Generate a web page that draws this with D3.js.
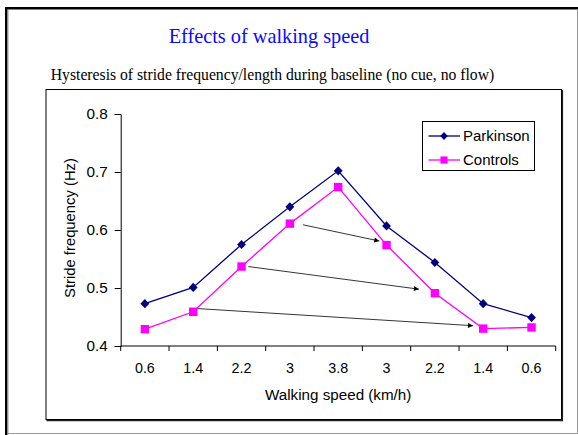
<!DOCTYPE html>
<html><head><meta charset="utf-8">
<script src="https://cdn.jsdelivr.net/npm/d3@7"></script>
<style>body{margin:0;background:#fff}svg{display:block}</style>
</head><body>
<script>
const categories = ["0.6","1.4","2.2","3","3.8","3","2.2","1.4","0.6"];
const parkinson = [0.473,0.501,0.575,0.640,0.702,0.607,0.544,0.473,0.449];
const controls  = [0.429,0.459,0.537,0.611,0.674,0.574,0.491,0.430,0.432];
const yTicks = [0.4,0.5,0.6,0.7,0.8];
// arrows: [fromIndex, fromValue, toIndex, toValue]
const arrows = [
  [3.27,0.609,4.85,0.581],
  [2.14,0.537,5.67,0.498],
  [1.00,0.465,6.79,0.435]
];
const title = "Effects of walking speed";
const subtitle = "Hysteresis of stride frequency/length during baseline (no cue, no flow)";

(function(){
const W=578,H=435;
const svg=d3.select("body").append("svg").attr("width",W).attr("height",H);

// outer frame
svg.append("rect").attr("x",5).attr("y",7).attr("width",573).attr("height",2.5).attr("fill","#000");
svg.append("rect").attr("x",5).attr("y",7).attr("width",2.5).attr("height",428).attr("fill","#000");
svg.append("rect").attr("x",7.5).attr("y",9.5).attr("width",1).attr("height",425).attr("fill","#999");
svg.append("line").attr("x1",577.5).attr("x2",577.5).attr("y1",9.5).attr("y2",433.5).attr("stroke","#999");
svg.append("line").attr("x1",7.5).attr("x2",578).attr("y1",433.5).attr("y2",433.5).attr("stroke","#999");

// titles
svg.append("text").attr("x",269).attr("y",43).attr("text-anchor","middle")
  .attr("font-family","'Liberation Serif','Times New Roman',serif").attr("font-size",20.3)
  .attr("fill","#0a0aff").text(title);
svg.append("text").attr("x",272.5).attr("y",80).attr("text-anchor","middle")
  .attr("font-family","'Liberation Serif','Times New Roman',serif").attr("font-size",15.7)
  .attr("fill","#000").text(subtitle);

// chart box
svg.append("rect").attr("x",46).attr("y",89.5).attr("width",515.5).attr("height",330)
  .attr("fill","#fff").attr("stroke","#000").attr("stroke-width",1);
svg.append("line").attr("x1",562.5).attr("x2",562.5).attr("y1",90).attr("y2",421).attr("stroke","#222").attr("stroke-width",1.2);
svg.append("line").attr("x1",46.5).attr("x2",563).attr("y1",420.6).attr("y2",420.6).attr("stroke","#222").attr("stroke-width",1.2);

const pl=120.7,pr=555.7,pt=114,pb=346;
const x=d3.scaleBand().domain(d3.range(categories.length)).range([pl,pr]);
const y=d3.scaleLinear().domain([0.4,0.8]).range([pb,pt]);
const xc=i=>pl+(i+0.5)*x.bandwidth();

const font="'Liberation Sans',Arial,sans-serif";

// y axis
const ya=svg.append("g").attr("transform",`translate(${pl},0)`)
  .call(d3.axisLeft(y).tickValues(yTicks).tickFormat(d3.format(".1f")).tickSize(6).tickPadding(7));
ya.select(".domain").attr("stroke","#000");
ya.selectAll("text").attr("font-family",font).attr("font-size",15.3).attr("fill","#000");

// x axis
const xa=svg.append("g").attr("transform",`translate(0,${pb})`)
  .call(d3.axisBottom(x).tickFormat(i=>categories[i]).tickSize(0).tickPadding(17));
xa.select(".domain").attr("stroke","#000").attr("d",`M${pl},0H${pr}`);
xa.selectAll("text").attr("font-family",font).attr("font-size",14.3).attr("fill","#000");
xa.selectAll(".xb").data(d3.range(categories.length+1)).enter().append("line")
  .attr("x1",i=>pl+i*x.bandwidth()).attr("x2",i=>pl+i*x.bandwidth())
  .attr("y1",0).attr("y2",5).attr("stroke","#000");

svg.append("text").attr("x",(pl+pr)/2).attr("y",400).attr("text-anchor","middle")
  .attr("font-family",font).attr("font-size",15.2).text("Walking speed (km/h)");
svg.append("text").attr("transform","translate(75,228) rotate(-90)").attr("text-anchor","middle")
  .attr("font-family",font).attr("font-size",14.8).text("Stride frequency (Hz)");

// arrows
const defs=svg.append("defs");
defs.append("marker").attr("id","ah").attr("viewBox","0 0 10 10").attr("refX",10).attr("refY",5)
  .attr("markerWidth",7).attr("markerHeight",5).attr("orient","auto").attr("markerUnits","userSpaceOnUse")
  .append("path").attr("d","M0,0L10,5L0,10Z").attr("fill","#000");
svg.selectAll(".arr").data(arrows).enter().append("line")
  .attr("x1",d=>xc(d[0])).attr("y1",d=>y(d[1])).attr("x2",d=>xc(d[2])).attr("y2",d=>y(d[3]))
  .attr("stroke","#000").attr("stroke-width",0.8).attr("marker-end","url(#ah)");

const diamond="M0,-4.6L4.4,0L0,4.6L-4.4,0Z";
const square="M-4.2,-4.2H4.2V4.2H-4.2Z";
const line=d3.line().x((d,i)=>xc(i)).y(d=>y(d));
function series(vals,color,shape){
  svg.append("path").datum(vals).attr("d",line).attr("fill","none").attr("stroke",color).attr("stroke-width",1.3);
  svg.selectAll(null).data(vals).enter().append("path")
    .attr("transform",(d,i)=>`translate(${xc(i)},${y(d)})`)
    .attr("d",shape).attr("fill",color);
}
series(parkinson,"#000080",diamond);
series(controls,"#ff00ff",square);

// legend
const lg=svg.append("g");
lg.append("rect").attr("x",422.5).attr("y",121.5).attr("width",112).attr("height",49)
  .attr("fill","#fff").attr("stroke","#000");
const items=[["Parkinson","#000080",diamond,136],["Controls","#ff00ff",square,160]];
items.forEach(([t,c,s,yy])=>{
  lg.append("line").attr("x1",428.5).attr("x2",460).attr("y1",yy).attr("y2",yy).attr("stroke",c).attr("stroke-width",1.3);
  lg.append("path").attr("transform",`translate(444,${yy}) scale(0.85)`).attr("d",s).attr("fill",c);
  lg.append("text").attr("x",463).attr("y",yy+5.3).attr("font-family",font).attr("font-size",15).text(t);
});
})();
</script>
</body></html>
